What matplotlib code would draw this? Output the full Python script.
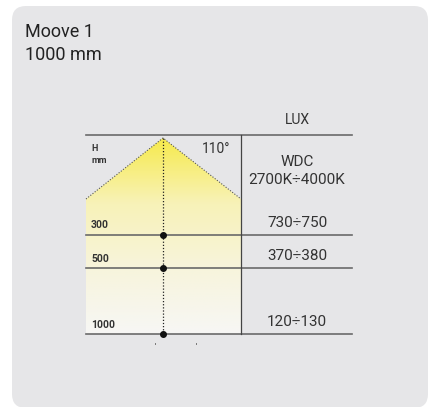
import numpy as np
import matplotlib
matplotlib.use("Agg")
import matplotlib.pyplot as plt
from matplotlib.patches import FancyBboxPatch, Polygon
from matplotlib.colors import LinearSegmentedColormap

plt.rcParams['font.family'] = ['Roboto', 'DejaVu Sans']

title = ["Moove 1", "1000 mm"]
heights = ["300", "500", "1000"]
lux = ["730÷750", "370÷380", "120÷130"]
cct = ["WDC", "2700K÷4000K"]
beam = "110°"

# layout in pixels
W, H = 433, 407
x0, xm, xc, x1 = 86, 241, 163, 352
y_top = 135
row_y = [235, 268, 334]
apex = (163, 138)
edge_y = 199

bg = "#e6e6e8"
line_c = "#6a6a6a"
txt_c = "#333333"

fig = plt.figure(figsize=(W / 100, H / 100), dpi=100)
ax = fig.add_axes([0, 0, 1, 1])
ax.set_xlim(0, W)
ax.set_ylim(H, 0)
ax.axis("off")

ax.add_patch(FancyBboxPatch((12, 6), 416, 402, boxstyle="round,pad=0,rounding_size=14",
                            fc=bg, ec="none"))

# light cone with gradient
cmap = LinearSegmentedColormap.from_list("cone", ["#f6ea4c", "#f8f2b8", "#f7f4dc", "#f7f7f5"])
grad = np.linspace(0, 1, 256).reshape(-1, 1)
im = ax.imshow(grad, cmap=cmap, extent=(x0, xm, row_y[-1], apex[1]), aspect="auto", zorder=1)
cone = Polygon([apex, (xm, edge_y), (xm, row_y[-1]), (x0, row_y[-1]), (x0, edge_y)],
               closed=True, fc="none", ec="none")
ax.add_patch(cone)
im.set_clip_path(cone)
ax.plot([x0, apex[0], xm], [edge_y, apex[1], edge_y], color="#555555", lw=0.8,
        ls=(0, (1, 1.5)), zorder=3)

# table lines
ax.plot([x0, x1], [y_top, y_top], color=line_c, lw=1.2, zorder=4)
for y in row_y:
    ax.plot([x0, x1], [y, y], color=line_c, lw=1.2, zorder=4)
ax.plot([xm, xm], [y_top, row_y[-1]], color="#444444", lw=0.9, zorder=4)

# center axis
ax.plot([xc, xc], [apex[1], row_y[-1]], color="#222222", lw=0.9, ls=(0, (1, 1.5)), zorder=3)
ax.scatter([xc] * len(row_y), row_y, s=16, color="#111111", zorder=5)
ax.plot([155, 155], [342.5, 343.5], color="#777777", lw=0.7)
ax.plot([196, 196], [342.5, 343.5], color="#777777", lw=0.7)

# texts (baseline positions)
kw = dict(color=txt_c, va="baseline")
ax.text(25, 37, title[0], fontsize=13, color="#222222", va="baseline")
ax.text(25, 60, title[1], fontsize=13, color="#222222", va="baseline")
ax.text(297, 124, "LUX", fontsize=10, ha="center", **kw)
ax.text(91, 151, "H", fontsize=6.5, fontweight="bold", **kw)
ax.text(91, 163, "mm", fontsize=6.5, fontweight="bold", **kw)
ax.text(216, 153, beam, fontsize=10, ha="center", **kw)
ax.text(297, 166, cct[0], fontsize=11, ha="center", **kw)
ax.text(297, 184, cct[1], fontsize=11, ha="center", **kw)
for y, h, l in zip(row_y, heights, lux):
    ax.text(91, y - 6.5, h, fontsize=7.5, fontweight="bold", **kw)
    ax.text(297, y - 8, l, fontsize=11, ha="center", **kw)

fig.savefig("out.png", dpi=100, facecolor="white")
